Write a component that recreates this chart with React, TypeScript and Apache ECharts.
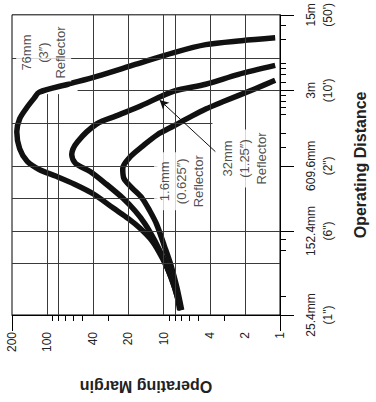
import React, { useEffect, useRef } from "react";
import * as echarts from "echarts";

// ---- axis ticks / labels ----
const marginLabelValues = [1, 2, 4, 10, 20, 40, 100, 200];
const marginMinorTicks = [3, 5, 6, 7, 8, 9, 30, 50, 60, 70, 80, 90];
const marginEndTicks = [1, 200];

const distanceLabelValues = [25.4, 152.4, 609.6, 3048, 15240];
const distanceLabelTexts = ['25.4mm\n(1")', '152.4mm\n(6")', '609.6mm\n(2")', "3m\n(10')", "15m\n(50')"];
const distanceMinorTicks = [38.1, 101.6, 127, 914.4, 1219.2, 1828.8, 2133.6, 2438.4, 2743.2, 3657.6, 4267.2, 4876.8, 5486.4, 9144, 12192];

// ---- grid lines: [value, from, to] ----
const marginGridLines = [
  [100, 25.4, 2811],
  [80, 25.4, 2811],
  [40, 25.4, 15240],
  [20, 25.4, 15240],
  [10, 25.4, 15240],
  [8, 25.4, 15240],
  [4, 25.4, 15240],
  [2, 25.4, 15240],
];
const distanceGridLines = [
  [6096, 1, 200],
  [3048, 1, 54.7],
  [1524, 3.8, 200],
  [609.6, 11.3, 200],
  [304.8, 11.3, 200],
  [152.4, 1, 200],
  [76.2, 1, 200],
];

// ---- curves (operating margin vs operating distance in mm) ----
const reflector76Margin = [1.1, 2.14, 4.34, 8.14, 17.5, 37.4, 66.2, 117, 129, 150, 172, 182, 172, 148, 117, 83.3, 58.0, 39.6, 27.0, 19.9, 15.9, 12.6, 10.2, 8.62, 7.69, 7.26];
const reflector76Distance = [9355, 8790, 8075, 6820, 5294, 4110, 3472, 2931, 2581, 2093, 1659, 1262, 881, 670, 565, 488, 412, 333, 248, 197, 161, 124, 84.6, 56.7, 38.7, 28.2];

const reflector32Margin = [1.1, 2.27, 4.34, 8.14, 16.5, 25.5, 37.4, 54.7, 61.4, 56.9, 42.7, 30.9, 22.4, 17.5, 14.4, 11.9, 9.85, 8.45, 7.54, 7.12];
const reflector32Distance = [5183, 4285, 3472, 2992, 2136, 1768, 1491, 1021, 775, 642, 541, 412, 307, 233, 177, 124, 81.1, 53.2, 36.4, 28.2];

const reflector16Margin = [1.1, 1.67, 3.14, 4.34, 5.89, 8.14, 11.3, 15.3, 19.2, 22.4, 21.9, 18.5, 15.3, 13.1, 11.5, 9.85, 8.62, 7.69, 6.99];
const reflector16Distance = [3775, 3124, 2375, 2047, 1730, 1432, 1184, 919, 744, 577, 467, 378, 307, 233, 177, 111, 72.9, 45.9, 28.2];

// ---- annotations ----
const annotationTexts = ["76mm\n(3″)\nReflector", "1.6mm\n(0.625″)\nReflector", "32mm\n(1.25″)\nReflector"];
const annotationMargins = [107, 6.99, 2.02];
const annotationDistances = [6820, 439, 713];
const arrowFrom = [3.59, 826];
const arrowTo = [10.8, 2476];

const sans = '"Liberation Sans", Arial, Helvetica, sans-serif';

function distanceLabel(v: number): string {
  let best = 0;
  let bestDiff = Infinity;
  distanceLabelValues.forEach((d, i) => {
    const diff = Math.abs(Math.log(d) - Math.log(v));
    if (diff < bestDiff) {
      bestDiff = diff;
      best = i;
    }
  });
  return distanceLabelTexts[best];
}

function curve(name: string, margins: number[], distances: number[], extra: any = {}) {
  return {
    type: "line",
    name,
    xAxisIndex: 0,
    yAxisIndex: 0,
    data: margins.map((m, i) => [m, distances[i]]),
    showSymbol: false,
    symbol: "none",
    smooth: 0.3,
    silent: true,
    z: 3,
    lineStyle: { color: "#111", width: 5.5, cap: "butt", join: "round" },
    ...extra,
  };
}

function buildOption() {
  const gridData: any[] = [];
  marginGridLines.forEach(([m, d1, d2]) => {
    gridData.push([{ coord: [m, d1] }, { coord: [m, d2] }]);
  });
  distanceGridLines.forEach(([d, m1, m2]) => {
    gridData.push([{ coord: [m1, d] }, { coord: [m2, d] }]);
  });

  return {
    animation: false,
    backgroundColor: "#fff",
    grid: {
      left: 12,
      right: 86,
      top: 12,
      bottom: 87,
      show: true,
      borderColor: "#000",
      borderWidth: 1,
      backgroundColor: "transparent",
    },
    xAxis: [
      {
        type: "log",
        min: 1,
        max: 200,
        inverse: true,
        position: "bottom",
        axisLine: { show: true, onZero: false, lineStyle: { color: "#000", width: 1 } },
        axisTick: { show: true, customValues: marginMinorTicks, length: 6, lineStyle: { color: "#000", width: 1 } },
        axisLabel: {
          show: true,
          customValues: marginLabelValues,
          rotate: 90,
          margin: 17,
          fontSize: 12,
          color: "#222",
          fontFamily: sans,
          formatter: (v: number) => String(Math.round(v)),
        },
        splitLine: { show: false },
        minorTick: { show: false },
        minorSplitLine: { show: false },
        name: "Operating Margin",
        nameLocation: "middle",
        nameRotate: 180,
        nameGap: 63,
        nameTextStyle: { fontSize: 16, fontWeight: "bold", color: "#222", fontFamily: sans },
      },
      {
        type: "log",
        min: 1,
        max: 200,
        inverse: true,
        position: "bottom",
        axisLine: { show: false, onZero: false },
        axisTick: { show: true, customValues: marginEndTicks, length: 16, lineStyle: { color: "#000", width: 1 } },
        axisLabel: { show: false },
        splitLine: { show: false },
      },
    ],
    yAxis: [
      {
        type: "log",
        min: 25.4,
        max: 15240,
        position: "right",
        axisLine: { show: true, onZero: false, lineStyle: { color: "#000", width: 1 } },
        axisTick: { show: true, customValues: distanceLabelValues, length: 14, lineStyle: { color: "#000", width: 1 } },
        axisLabel: {
          show: true,
          customValues: distanceLabelValues,
          rotate: 90,
          margin: 22,
          fontSize: 12,
          lineHeight: 17,
          color: "#222",
          fontFamily: sans,
          formatter: (v: number) => distanceLabel(v),
        },
        splitLine: { show: false },
        minorTick: { show: false },
        name: "Operating Distance",
        nameLocation: "middle",
        nameRotate: 90,
        nameGap: 72,
        nameTextStyle: { fontSize: 16, fontWeight: "bold", color: "#222", fontFamily: sans },
      },
      {
        type: "log",
        min: 25.4,
        max: 15240,
        position: "right",
        axisLine: { show: false, onZero: false },
        axisTick: { show: true, customValues: distanceMinorTicks, length: 6, lineStyle: { color: "#000", width: 1 } },
        axisLabel: { show: false },
        splitLine: { show: false },
      },
    ],
    series: [
      {
        type: "line",
        name: "grid",
        xAxisIndex: 0,
        yAxisIndex: 0,
        data: [],
        z: 1,
        silent: true,
        markLine: {
          silent: true,
          symbol: "none",
          animation: false,
          label: { show: false },
          lineStyle: { color: "#3a3a3a", width: 1, type: "solid" },
          emphasis: { disabled: true },
          data: gridData,
        },
      },
      curve("76mm (3″) Reflector", reflector76Margin, reflector76Distance),
      curve("32mm (1.25″) Reflector", reflector32Margin, reflector32Distance, {
        markLine: {
          silent: true,
          symbol: ["none", "arrow"],
          symbolSize: [7, 9],
          animation: false,
          label: { show: false },
          lineStyle: { color: "#111", width: 1, type: "solid" },
          emphasis: { disabled: true },
          data: [[{ coord: arrowFrom }, { coord: arrowTo }]],
        },
      }),
      curve("1.6mm (0.625″) Reflector", reflector16Margin, reflector16Distance),
      {
        type: "scatter",
        name: "annotations",
        xAxisIndex: 0,
        yAxisIndex: 0,
        symbol: "circle",
        symbolSize: 1,
        silent: true,
        z: 5,
        itemStyle: { color: "rgba(0,0,0,0)" },
        data: annotationTexts.map((t, i) => ({
          value: [annotationMargins[i], annotationDistances[i]],
          label: { formatter: t },
        })),
        label: {
          show: true,
          position: "inside",
          rotate: 90,
          fontSize: 13,
          lineHeight: 17,
          color: "#222",
          fontFamily: sans,
          align: "center",
          verticalAlign: "middle",
          backgroundColor: "#fff",
          padding: [2, 3],
        },
      },
    ],
  };
}

export default function App() {
  const ref = useRef<HTMLDivElement>(null);
  useEffect(() => {
    if (!ref.current) return;
    const chart = echarts.init(ref.current, null, { renderer: "svg" });
    chart.setOption(buildOption() as any);
    return () => chart.dispose();
  }, []);
  return (
    <div
      ref={ref}
      style={{ position: "absolute", left: 0, top: 0, width: 376, height: 402, background: "#fff" }}
    />
  );
}
